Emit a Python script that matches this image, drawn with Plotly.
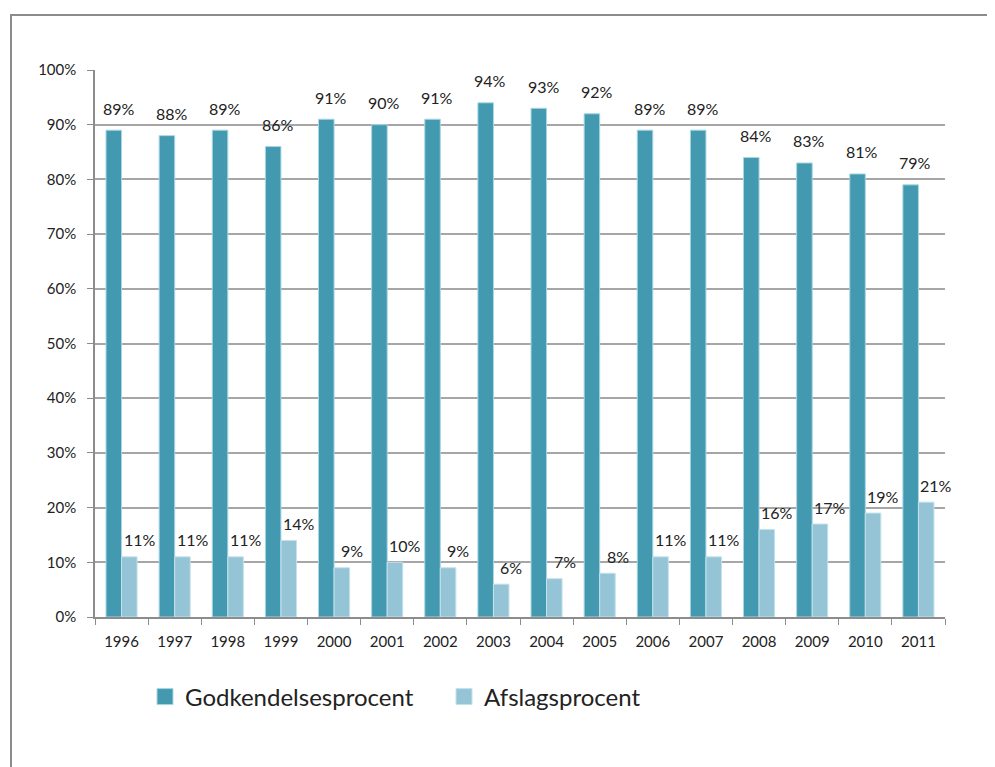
import plotly.graph_objects as go

years = ["1996", "1997", "1998", "1999", "2000", "2001", "2002", "2003",
         "2004", "2005", "2006", "2007", "2008", "2009", "2010", "2011"]
godkendelse = [89, 88, 89, 86, 91, 90, 91, 94, 93, 92, 89, 89, 84, 83, 81, 79]
afslag = [11, 11, 11, 14, 9, 10, 9, 6, 7, 8, 11, 11, 16, 17, 19, 21]
y_ticks = [0, 10, 20, 30, 40, 50, 60, 70, 80, 90, 100]

DARK = "#4299B0"
LIGHT = "#94C4D6"
FONT = "Lato, 'Open Sans', sans-serif"

OFF = 8  # page body margin
W, H = 995 - OFF, 767 - OFF
L, T = 95 - OFF, 70 - OFF
R = W - (945 - OFF)
B = H - (617 - OFF)
PW, PH = W - L - R, H - T - B

fig = go.Figure()
fig.add_trace(go.Bar(x=years, y=[v / 100 for v in godkendelse], name="Godkendelsesprocent",
                     showlegend=False,
                     marker=dict(color=DARK, line=dict(color="#A9D6E3", width=1))))
fig.add_trace(go.Bar(x=years, y=[v / 100 for v in afslag], name="Afslagsprocent",
                     showlegend=False,
                     marker=dict(color=LIGHT, line=dict(color="#C5E2EC", width=1))))
# legend entries with larger square swatches (as in the reference)
for name, col, edge in [("Godkendelsesprocent", DARK, "#A9D6E3"), ("Afslagsprocent", LIGHT, "#C5E2EC")]:
    fig.add_trace(go.Scatter(x=[None], y=[None], mode="markers", name=name,
                             marker=dict(symbol="square", size=16, color=col,
                                         line=dict(color=edge, width=1))))

annotations = []
for i, (g, a) in enumerate(zip(godkendelse, afslag)):
    annotations.append(dict(x=i, y=g / 100, xref="x", yref="y", text=f"{g}%", showarrow=False,
                            xshift=-3, yshift=22, font=dict(family=FONT, size=16, color="#222")))
    annotations.append(dict(x=i, y=a / 100, xref="x", yref="y", text=f"{a}%", showarrow=False,
                            xshift=18, yshift=17, font=dict(family=FONT, size=16, color="#222")))

def px_x(px):
    return (px - OFF - L) / PW

def px_y(py):
    return (T + PH - (py - OFF)) / PH

# outer chart border
shapes = [dict(type="rect", xref="paper", yref="paper",
               x0=px_x(11), x1=px_x(1010), y0=px_y(790), y1=px_y(15),
               line=dict(color="#8C8C8C", width=2), fillcolor="rgba(0,0,0,0)", layer="below")]

fig.update_layout(
    width=W, height=H,
    margin=dict(l=L, r=R, t=T, b=B, autoexpand=False),
    paper_bgcolor="white", plot_bgcolor="white",
    barmode="group", bargap=0.415, bargroupgap=0,
    font=dict(family=FONT, size=15, color="#222"),
    showlegend=True,
    legend=dict(orientation="h", x=px_x(145), xanchor="left", y=px_y(697),
                yanchor="middle", font=dict(family=FONT, size=24, color="#222"),
                itemwidth=30, entrywidth=254, entrywidthmode="pixels"),
    annotations=annotations,
    shapes=shapes,
)
fig.update_xaxes(type="category", range=[-0.5, 15.5], tickson="boundaries", ticks="outside", ticklen=6,
                 tickcolor="#8C8C8C", showline=True, linecolor="#8C8C8C", linewidth=1.5,
                 showgrid=False, tickangle=0, automargin=False, ticklabelstandoff=10,
                 tickfont=dict(family=FONT, size=15, color="#222"))
fig.update_yaxes(range=[0, 1.0], tickvals=[v / 100 for v in y_ticks],
                 ticktext=[f"{v}%" for v in y_ticks], ticks="outside", ticklen=6,
                 tickcolor="#8C8C8C", showline=True, linecolor="#8C8C8C", linewidth=1.5,
                 showgrid=True, gridcolor="#A6A6A6", gridwidth=1.5, zeroline=False,
                 automargin=False, ticklabelstandoff=8,
                 tickfont=dict(family=FONT, size=15, color="#222"))

fig.write_html("out.html")
